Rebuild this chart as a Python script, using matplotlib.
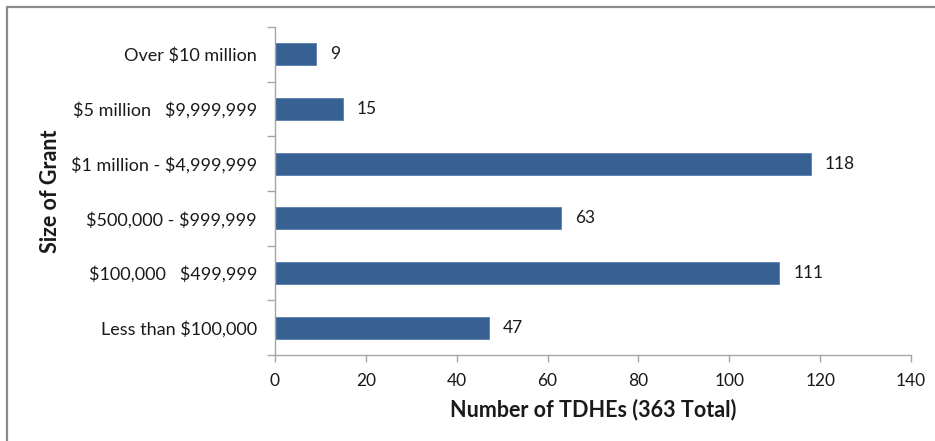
import matplotlib

matplotlib.use("Agg")
import matplotlib.pyplot as plt
from matplotlib.patches import Rectangle
import numpy as np

# ── Data ──────────────────────────────────────────────────────────────────────

CATEGORIES = [
    "Less than $100,000",
    "$100,000   $499,999",
    "$500,000 - $999,999",
    "$1 million - $4,999,999",
    "$5 million   $9,999,999",
    "Over $10 million",
]
COUNTS = [47, 111, 63, 118, 15, 9]
X_TICKS = [0, 20, 40, 60, 80, 100, 120, 140]

# ── Style ─────────────────────────────────────────────────────────────────────

BAR = "#386193"
SPINE = "#A6A6A6"
TEXT = "#1A1A1A"
FONT = ["Lato", "DejaVu Sans"]

plt.rcParams["font.family"] = FONT
plt.rcParams["text.parse_math"] = False

fig = plt.figure(figsize=(9.35, 4.41), dpi=100)
ax = fig.add_axes([275 / 935, 1 - 355 / 441, (911 - 275) / 935, (355 - 27) / 441])

# cropped chart-area frame (left and top edges only visible)
fig.patches.append(
    Rectangle((7 / 935, -0.1), 1.2, 1 - 7 / 441 + 0.1, transform=fig.transFigure,
              fill=False, edgecolor="#8C8C8C", linewidth=1.6)
)

y = np.arange(len(CATEGORIES))
bars = ax.barh(y, COUNTS, height=0.4, color=BAR, edgecolor="#5B7FAE", linewidth=0.6)
ax.bar_label(bars, padding=10, fontsize=12.5, color=TEXT)

ax.set_xlim(0, 140)
ax.set_ylim(-0.5, len(CATEGORIES) - 0.5)
ax.set_xticks(X_TICKS)
ax.set_yticks(y)
ax.set_yticklabels(CATEGORIES)
ax.set_yticks(np.arange(-0.5, len(CATEGORIES)), minor=True)

ax.tick_params(axis="y", which="major", length=0, pad=13, labelsize=13, labelcolor=TEXT)
ax.tick_params(axis="y", which="minor", length=6, color=SPINE, width=1)
ax.tick_params(axis="x", which="major", length=5, color=SPINE, width=1, pad=8,
               labelsize=12.5, labelcolor=TEXT)

for side in ("top", "right"):
    ax.spines[side].set_visible(False)
for side in ("left", "bottom"):
    ax.spines[side].set_color(SPINE)
    ax.spines[side].set_linewidth(1)

ax.set_xlabel("Number of TDHEs (363 Total)", fontsize=15.5, fontweight="bold",
              color=TEXT, va="center")
ax.xaxis.set_label_coords(0.5, (355 - 410) / 328)
ax.set_ylabel("Size of Grant", fontsize=15.5, fontweight="bold", color=TEXT,
              va="center", ha="center")
ax.yaxis.set_label_coords((50 - 275) / 636, 0.5)

fig.savefig("out.png", dpi=100)
